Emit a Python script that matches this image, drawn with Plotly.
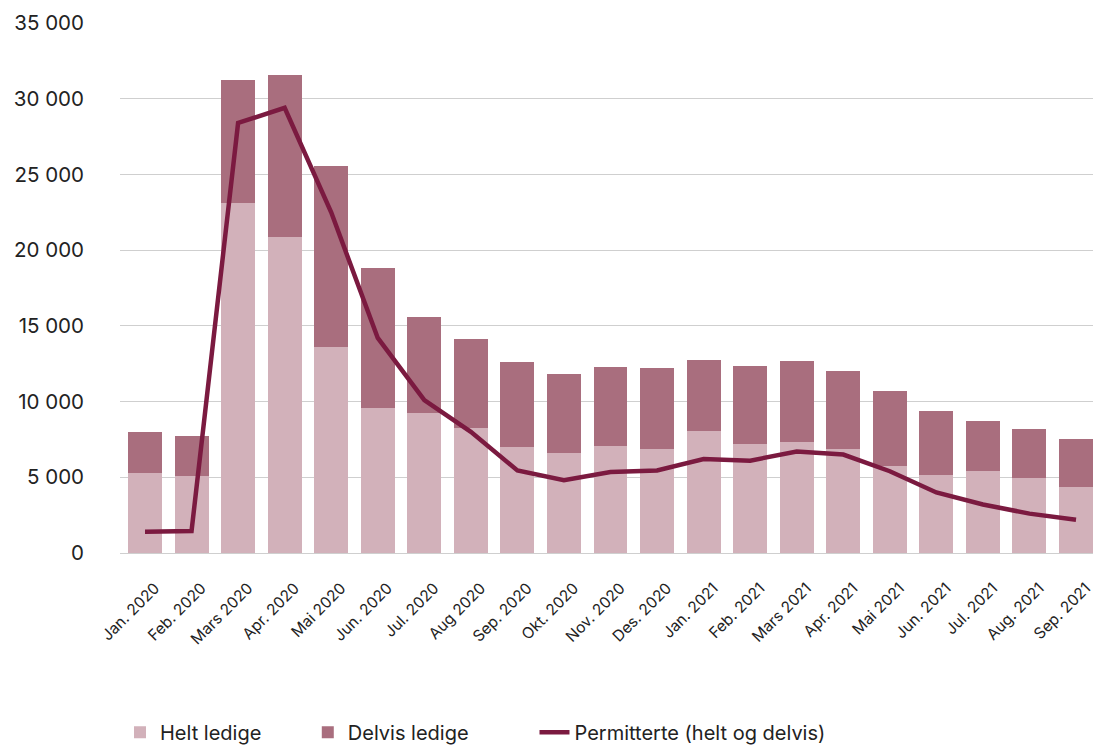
import plotly.graph_objects as go

months = ["Jan. 2020", "Feb. 2020", "Mars 2020", "Apr. 2020", "Mai 2020", "Jun. 2020",
          "Jul. 2020", "Aug 2020", "Sep. 2020", "Okt. 2020", "Nov. 2020", "Des. 2020",
          "Jan. 2021", "Feb. 2021", "Mars 2021", "Apr. 2021", "Mai 2021", "Jun. 2021",
          "Jul. 2021", "Aug. 2021", "Sep. 2021"]
totals = [8000, 7730, 31250, 31570, 25560, 18820, 15590, 14130, 12620, 11820, 12290, 12220,
          12750, 12350, 12680, 12020, 10700, 9380, 8720, 8190, 7530]
helt = [5300, 5100, 23100, 20870, 13600, 9580, 9250, 8260, 7000, 6600, 7070, 6870,
        8060, 7200, 7330, 6870, 5750, 5150, 5420, 4950, 4360]
delvis = [t - h for t, h in zip(totals, helt)]
permitterte = [1400, 1450, 28400, 29400, 22500, 14200, 10100, 8000, 5450, 4800, 5350, 5450,
               6200, 6100, 6700, 6500, 5400, 4000, 3200, 2600, 2200]

FONT = "Inter"
LEGFONT = dict(size=20, color="#222222", family=FONT)
fig = go.Figure()
fig.add_trace(go.Bar(x=months, y=helt, name="Helt ledige", marker_color="#D2B1BA",
                     marker_line_width=0, legend="legend"))
fig.add_trace(go.Bar(x=months, y=delvis, name="Delvis ledige", marker_color="#A96E7E",
                     marker_line_width=0, legend="legend2"))
fig.add_trace(go.Scatter(x=months, y=permitterte, name="Permitterte (helt og delvis)",
                         mode="lines", line=dict(color="#7B1A40", width=4.5),
                         legend="legend3"))

def leg(x):
    return dict(orientation="h", x=x, xanchor="left", y=0.017, yref="container",
                yanchor="middle", font=LEGFONT, bgcolor="rgba(0,0,0,0)")

fig.update_layout(
    width=1093, height=745,
    barmode="stack", bargap=0.27,
    separators=", ",
    plot_bgcolor="white", paper_bgcolor="white",
    margin=dict(l=120, r=0, t=23, b=192, autoexpand=False),
    font=dict(family=FONT, color="#222222"),
    showlegend=True,
    legend=leg(0.0),
    legend2=leg(0.193),
    legend3=leg(0.426),
    xaxis=dict(range=[-0.537, 20.365], tickangle=-45, tickfont=dict(size=15.5),
               showgrid=False, showline=False, ticks="", ticklabelstandoff=22,
               ticklabelshift=10, automargin=False),
    yaxis=dict(range=[0, 35000], dtick=5000, tickformat=",d", tickfont=dict(size=20.5),
               showgrid=True, gridcolor="#CFCFCF", gridwidth=1, zeroline=True,
               zerolinecolor="#CFCFCF", zerolinewidth=1, ticks="",
               ticklabelstandoff=35, automargin=False),
)
fig.write_html("out.html", config={"displayModeBar": False},
               post_script="document.body.style.margin='0';document.body.style.overflow='hidden';")
